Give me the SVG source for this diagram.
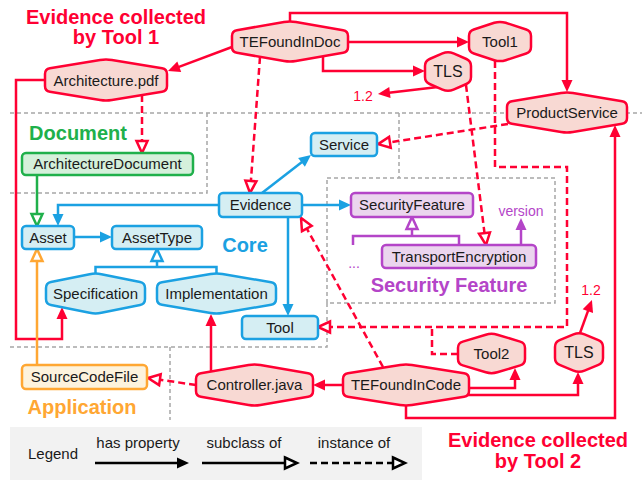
<svg xmlns="http://www.w3.org/2000/svg" width="642" height="480" viewBox="0 0 642 480">
<style>
text{font-family:"Liberation Sans",Arial,sans-serif;font-size:15px;fill:#1a1a1a;text-anchor:middle}
.lbl{font-weight:bold;font-size:20px}
.region{fill:none;stroke:#a6a6a6;stroke-width:1.5;stroke-dasharray:4 3}
.rn{fill:#f8d9d3;stroke:#ff0033;stroke-width:2.5}
.bn{fill:#d5eef3;stroke:#1ba1e2;stroke-width:2.5}
.pn{fill:#ebd5ee;stroke:#b445c8;stroke-width:2.5}
.gn{fill:#d5f0db;stroke:#20b04b;stroke-width:2.5}
.on{fill:#fdf3dd;stroke:#ffa733;stroke-width:2.5}
.c{fill:none;stroke-width:2.5;stroke-linejoin:miter}
.r{stroke:#ff0033}.b{stroke:#1ba1e2}.p{stroke:#b445c8}.g{stroke:#20b04b}.o{stroke:#ffa733}.k{stroke:#000}
.d{stroke-dasharray:7 4}
</style>
<defs>
<marker id="ar" markerUnits="userSpaceOnUse" orient="auto" overflow="visible" markerWidth="12" markerHeight="12"><path d="M-1,-5.5L11,0L-1,5.5Z" fill="#ff0033"/></marker>
<marker id="ab" markerUnits="userSpaceOnUse" orient="auto" overflow="visible" markerWidth="12" markerHeight="12"><path d="M-1,-5.5L11,0L-1,5.5Z" fill="#1ba1e2"/></marker>
<marker id="ap" markerUnits="userSpaceOnUse" orient="auto" overflow="visible" markerWidth="12" markerHeight="12"><path d="M-1,-5.5L11,0L-1,5.5Z" fill="#b445c8"/></marker>
<marker id="ak" markerUnits="userSpaceOnUse" orient="auto" overflow="visible" markerWidth="12" markerHeight="12"><path d="M-1,-5.5L11,0L-1,5.5Z" fill="#000"/></marker>
<marker id="tr" markerUnits="userSpaceOnUse" orient="auto" overflow="visible" markerWidth="12" markerHeight="12"><path d="M0,-5.5L12,0L0,5.5Z" fill="#fff" stroke="#ff0033" stroke-width="2.5"/></marker>
<marker id="tb" markerUnits="userSpaceOnUse" orient="auto" overflow="visible" markerWidth="12" markerHeight="12"><path d="M0,-5.5L12,0L0,5.5Z" fill="#fff" stroke="#1ba1e2" stroke-width="2.5"/></marker>
<marker id="tp" markerUnits="userSpaceOnUse" orient="auto" overflow="visible" markerWidth="12" markerHeight="12"><path d="M0,-5.5L12,0L0,5.5Z" fill="#fff" stroke="#b445c8" stroke-width="2.5"/></marker>
<marker id="tg" markerUnits="userSpaceOnUse" orient="auto" overflow="visible" markerWidth="12" markerHeight="12"><path d="M0,-5.5L12,0L0,5.5Z" fill="#fff" stroke="#20b04b" stroke-width="2.5"/></marker>
<marker id="to" markerUnits="userSpaceOnUse" orient="auto" overflow="visible" markerWidth="12" markerHeight="12"><path d="M0,-5.5L12,0L0,5.5Z" fill="#fff" stroke="#ffa733" stroke-width="2.5"/></marker>
<marker id="tk" markerUnits="userSpaceOnUse" orient="auto" overflow="visible" markerWidth="12" markerHeight="12"><path d="M0,-5.5L12,0L0,5.5Z" fill="#fff" stroke="#000" stroke-width="2.5"/></marker>
</defs>
<rect width="642" height="480" fill="#fff"/>

<g id="regions">
<path class="region" d="M10,113L642,113"/>
<path class="region" d="M207,113L207,193L10,193"/>
<path class="region" d="M399,113L399,178"/>
<path class="region" d="M327,178L555,178L555,303L327,303Z"/>
<path class="region" d="M327,303L327,347L10,347"/>
<path class="region" d="M170,347L170,420"/>
</g>

<g id="region-labels">
<text class="lbl" x="116" y="24" style="fill:#ff0033">Evidence collected<tspan x="116" y="44">by Tool 1</tspan></text>
<text class="lbl" x="538" y="447" style="fill:#ff0033">Evidence collected<tspan x="538" y="468">by Tool 2</tspan></text>
<text class="lbl" x="78" y="140" style="fill:#20b04b">Document</text>
<text class="lbl" x="245" y="252" style="fill:#1ba1e2">Core</text>
<text class="lbl" x="449" y="292" style="fill:#b445c8">Security Feature</text>
<text class="lbl" x="82" y="414" style="fill:#ffa733">Application</text>
</g>

<g id="legend">
<rect x="10" y="427" width="412" height="53" fill="#f2f2f2"/>
<text x="53" y="459">Legend</text>
<text x="138" y="448">has property</text>
<text x="244" y="448">subclass of</text>
<text x="354" y="448">instance of</text>
<path class="c k" d="M95,463L178,463" marker-end="url(#ak)"/>
<path class="c k" d="M202,463L285,463" marker-end="url(#tk)"/>
<path class="c k d" d="M310,463L393,463" marker-end="url(#tk)"/>
</g>

<g id="connectors">
<path class="c r" d="M232,47L178.3,67.1" marker-end="url(#ar)"/>
<path class="c r" d="M348,42L458,42" marker-end="url(#ar)"/>
<path class="c r" d="M323,56L323,71L414,71" marker-end="url(#ar)"/>
<path class="c r" d="M290,21L290,13L567,13L567,81" marker-end="url(#ar)"/>
<path class="c r d" d="M260,57L250.9,181" marker-end="url(#tr)"/>
<path class="c r d" d="M142,95L142,141" marker-end="url(#tr)"/>
<path class="c r" d="M45,80L16,80L16,339L62,339L62,318" marker-end="url(#ar)"/>
<path class="c r d" d="M466,85L484.5,233.1" marker-end="url(#tr)"/>
<path class="c r d" d="M495,61L495,167L567,167L567,327L330,327" marker-end="url(#tr)"/>
<path class="c r d" d="M508,124L389.9,142.3" marker-end="url(#tr)"/>
<path class="c r" d="M406,406L406,418L615,418L615,136" marker-end="url(#ar)"/>
<path class="c r" d="M469,388L515,388L515,379" marker-end="url(#ar)"/>
<path class="c r" d="M467,395L578,395L578,383" marker-end="url(#ar)"/>
<path class="c r d" d="M458,354L432,354L432,327"/>
<path class="c r d" d="M383,367L306.8,228.5" marker-end="url(#tr)"/>
<path class="c r" d="M343,385L324,385" marker-end="url(#ar)"/>
<path class="c r" d="M211,371L211,325" marker-end="url(#ar)"/>
<path class="c r d" d="M196,385L159.9,379.7" marker-end="url(#tr)"/>
<path class="c r" d="M438,87L388.9,92.7" marker-end="url(#ar)"/>
<path class="c r" d="M580,333L588.2,310.3" marker-end="url(#ar)"/>
<path class="c b" d="M262,193L302.3,161.7" marker-end="url(#ab)"/>
<path class="c b" d="M302,205L340,205" marker-end="url(#ab)"/>
<path class="c b" d="M219,205L58,205L58,215" marker-end="url(#ab)"/>
<path class="c b" d="M288,217L288,305" marker-end="url(#ab)"/>
<path class="c b" d="M74,237L101,237" marker-end="url(#ab)"/>
<path class="c b" d="M95.5,274L95.5,267L216.5,267L216.5,274"/>
<path class="c b" d="M157,267L157,261" marker-end="url(#tb)"/>
<path class="c g" d="M37,175L37,214" marker-end="url(#tg)"/>
<path class="c o" d="M37,365L37,261" marker-end="url(#to)"/>
<path class="c p" d="M353,245L353,236L459,236L459,245"/>
<path class="c p" d="M412,236L412,229" marker-end="url(#tp)"/>
<path class="c p" d="M521,245L521,229" marker-end="url(#ap)"/>
</g>

<g id="labels">
<text x="363" y="101" style="font-size:14px;fill:#ff0033">1.2</text>
<text x="591" y="295" style="font-size:14px;fill:#ff0033">1.2</text>
<text x="521" y="216" style="font-size:14px;fill:#b445c8">version</text>
<text x="354" y="268" style="font-size:14px;fill:#b445c8">...</text>
</g>

<g id="TEFoundInDoc"><path class="rn" d="M232,36Q232,31 236.9,30.2L284.1,22Q290,21 295.9,22L343.1,30.2Q348,31 348,36L348,47Q348,52 343.1,52.8L295.9,61Q290,62 284.1,61L236.9,52.8Q232,52 232,47Z"/><text x="290" y="47">TEFoundInDoc</text></g>
<g id="Architecture.pdf"><path class="rn" d="M45,74Q45,69 49.9,68.2L100.1,60Q106,59 111.9,60L162.1,68.2Q167,69 167,74L167,86Q167,91 162.1,91.8L111.9,100Q106,101 100.1,100L49.9,91.8Q45,91 45,86Z"/><text x="106" y="86">Architecture.pdf</text></g>
<g id="Tool1"><path class="rn" d="M469,36Q469,31 473.8,29.5L494.3,22.8Q500,21 505.7,22.8L526.2,29.5Q531,31 531,36L531,47Q531,52 526.2,53.5L505.7,60.2Q500,62 494.3,60.2L473.8,53.5Q469,52 469,47Z"/><text x="500" y="47">Tool1</text></g>
<g id="TLS-top"><path class="rn" d="M425,66Q425,61 429.6,59L442.5,53.4Q448,51 453.5,53.4L466.4,59Q471,61 471,66L471,77Q471,82 466.4,84L453.5,89.6Q448,92 442.5,89.6L429.6,84Q425,82 425,77Z"/><text x="448" y="77" style="font-size:16px">TLS</text></g>
<g id="ProductService"><path class="rn" d="M507,107Q507,102 511.9,101.2L561.1,93Q567,92 572.9,93L622.1,101.2Q627,102 627,107L627,118Q627,123 622.1,123.8L572.9,132Q567,133 561.1,132L511.9,123.8Q507,123 507,118Z"/><text x="567" y="118">ProductService</text></g>
<g id="Tool2"><path class="rn" d="M458,348Q458,343 462.8,341.6L485.8,334.7Q491.5,333 497.3,334.7L520.2,341.6Q525,343 525,348L525,359Q525,364 520.2,365.4L497.3,372.3Q491.5,374 485.8,372.3L462.8,365.4Q458,364 458,359Z"/><text x="491.5" y="359">Tool2</text></g>
<g id="TLS-bottom"><path class="rn" d="M555,347Q555,342 559.6,340.1L573.5,334.3Q579,332 584.5,334.3L598.4,340.1Q603,342 603,347L603,358Q603,363 598.4,364.9L584.5,370.7Q579,373 573.5,370.7L559.6,364.9Q555,363 555,358Z"/><text x="579" y="358" style="font-size:16px">TLS</text></g>
<g id="TEFoundInCode"><path class="rn" d="M343,379Q343,374 347.9,373.2L400.1,364.9Q406,364 411.9,364.9L464.1,373.2Q469,374 469,379L469,391Q469,396 464.1,396.8L411.9,405.1Q406,406 400.1,405.1L347.9,396.8Q343,396 343,391Z"/><text x="406" y="390">TEFoundInCode</text></g>
<g id="Controller.java"><path class="rn" d="M196,379Q196,374 200.9,373.2L248.6,365Q254.5,364 260.4,365L308.1,373.2Q313,374 313,379L313,391Q313,396 308.1,396.8L260.4,405Q254.5,406 248.6,405L200.9,396.8Q196,396 196,391Z"/><text x="254.5" y="390">Controller.java</text></g>
<g id="Specification"><path class="bn" d="M46,288Q46,283 50.9,282L89.6,274.2Q95.5,273 101.4,274.2L140.1,282Q145,283 145,288L145,299Q145,304 140.1,305L101.4,312.8Q95.5,314 89.6,312.8L50.9,305Q46,304 46,299Z"/><text x="95.5" y="299">Specification</text></g>
<g id="Implementation"><path class="bn" d="M157,288Q157,283 161.9,282.2L210.6,274Q216.5,273 222.4,274L271.1,282.2Q276,283 276,288L276,299Q276,304 271.1,304.8L222.4,313Q216.5,314 210.6,313L161.9,304.8Q157,304 157,299Z"/><text x="216.5" y="299">Implementation</text></g>
<g id="Service"><rect class="bn" x="311" y="133" width="66" height="23" rx="4"/><text x="344" y="150">Service</text></g>
<g id="Evidence"><rect class="bn" x="219" y="193" width="83" height="24" rx="4"/><text x="260.5" y="210">Evidence</text></g>
<g id="Asset"><rect class="bn" x="22" y="226" width="52" height="23" rx="4"/><text x="48" y="243">Asset</text></g>
<g id="AssetType"><rect class="bn" x="112" y="226" width="90" height="23" rx="4"/><text x="157" y="243">AssetType</text></g>
<g id="Tool"><rect class="bn" x="242" y="316" width="76" height="23" rx="4"/><text x="280" y="333">Tool</text></g>
<g id="SecurityFeature"><rect class="pn" x="351" y="193" width="122" height="24" rx="4"/><text x="412" y="210">SecurityFeature</text></g>
<g id="TransportEncryption"><rect class="pn" x="382" y="245" width="154" height="23" rx="4"/><text x="459" y="262">TransportEncryption</text></g>
<g id="ArchitectureDocument"><rect class="gn" x="22" y="153" width="171" height="22" rx="4"/><text x="107.5" y="169">ArchitectureDocument</text></g>
<g id="SourceCodeFile"><rect class="on" x="22" y="365" width="125" height="24" rx="4"/><text x="84.5" y="382">SourceCodeFile</text></g>
</svg>
